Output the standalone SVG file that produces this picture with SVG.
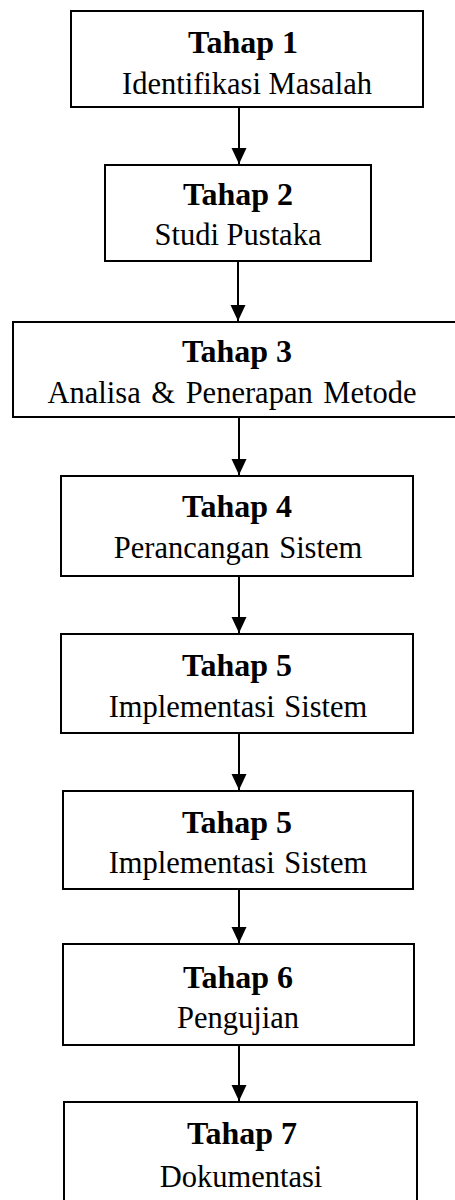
<svg xmlns="http://www.w3.org/2000/svg" width="455" height="1200" viewBox="0 0 455 1200">
<style>
.box{fill:#fff;stroke:#000;stroke-width:2}
.t{font-family:"Liberation Serif","Times New Roman",serif;font-size:32px;font-weight:bold;text-anchor:middle;fill:#000}
.s{font-family:"Liberation Serif","Times New Roman",serif;font-size:30.5px;text-anchor:middle;fill:#000}
.c{stroke:#000;stroke-width:2;fill:none}
</style>
<defs>
<marker id="ah" markerUnits="userSpaceOnUse" markerWidth="18" markerHeight="16" refX="16" refY="7.5" orient="auto">
<path d="M0,0 L16,7.5 L0,15 Z" fill="#000"/>
</marker>
</defs>
<rect width="455" height="1200" fill="#fff"/>
<g id="connectors">
<line class="c" x1="239" y1="107" x2="239" y2="164" marker-end="url(#ah)"/>
<line class="c" x1="238" y1="261" x2="238" y2="321" marker-end="url(#ah)"/>
<line class="c" x1="239" y1="417" x2="239" y2="475" marker-end="url(#ah)"/>
<line class="c" x1="239" y1="576" x2="239" y2="633" marker-end="url(#ah)"/>
<line class="c" x1="239" y1="733" x2="239" y2="790" marker-end="url(#ah)"/>
<line class="c" x1="239" y1="889" x2="239" y2="943" marker-end="url(#ah)"/>
<line class="c" x1="239" y1="1045" x2="239" y2="1101" marker-end="url(#ah)"/>
</g>
<g id="n1">
<rect class="box" x="71" y="11" width="352" height="96"/>
<text class="t" x="243" y="53">Tahap 1</text>
<text class="s" x="247" y="94">Identifikasi Masalah</text>
</g>
<g id="n2">
<rect class="box" x="105" y="165" width="266" height="96"/>
<text class="t" x="238" y="205">Tahap 2</text>
<text class="s" x="238" y="245">Studi Pustaka</text>
</g>
<g id="n3">
<rect class="box" x="13" y="322" width="460" height="95"/>
<text class="t" x="237" y="362">Tahap 3</text>
<text class="s" x="232" y="403" word-spacing="3">Analisa &amp; Penerapan Metode</text>
</g>
<g id="n4">
<rect class="box" x="61" y="476" width="352" height="100"/>
<text class="t" x="237" y="517">Tahap 4</text>
<text class="s" x="238" y="558" word-spacing="2">Perancangan Sistem</text>
</g>
<g id="n5">
<rect class="box" x="61" y="634" width="352" height="99"/>
<text class="t" x="237" y="676">Tahap 5</text>
<text class="s" x="238" y="717" word-spacing="2">Implementasi Sistem</text>
</g>
<g id="n6">
<rect class="box" x="63" y="791" width="350" height="98"/>
<text class="t" x="237" y="833">Tahap 5</text>
<text class="s" x="238" y="873" word-spacing="2">Implementasi Sistem</text>
</g>
<g id="n7">
<rect class="box" x="63" y="944" width="351" height="101"/>
<text class="t" x="238" y="988">Tahap 6</text>
<text class="s" x="238" y="1028">Pengujian</text>
</g>
<g id="n8">
<rect class="box" x="64" y="1102" width="353" height="110"/>
<text class="t" x="242" y="1144">Tahap 7</text>
<text class="s" x="241" y="1187">Dokumentasi</text>
</g>
</svg>
